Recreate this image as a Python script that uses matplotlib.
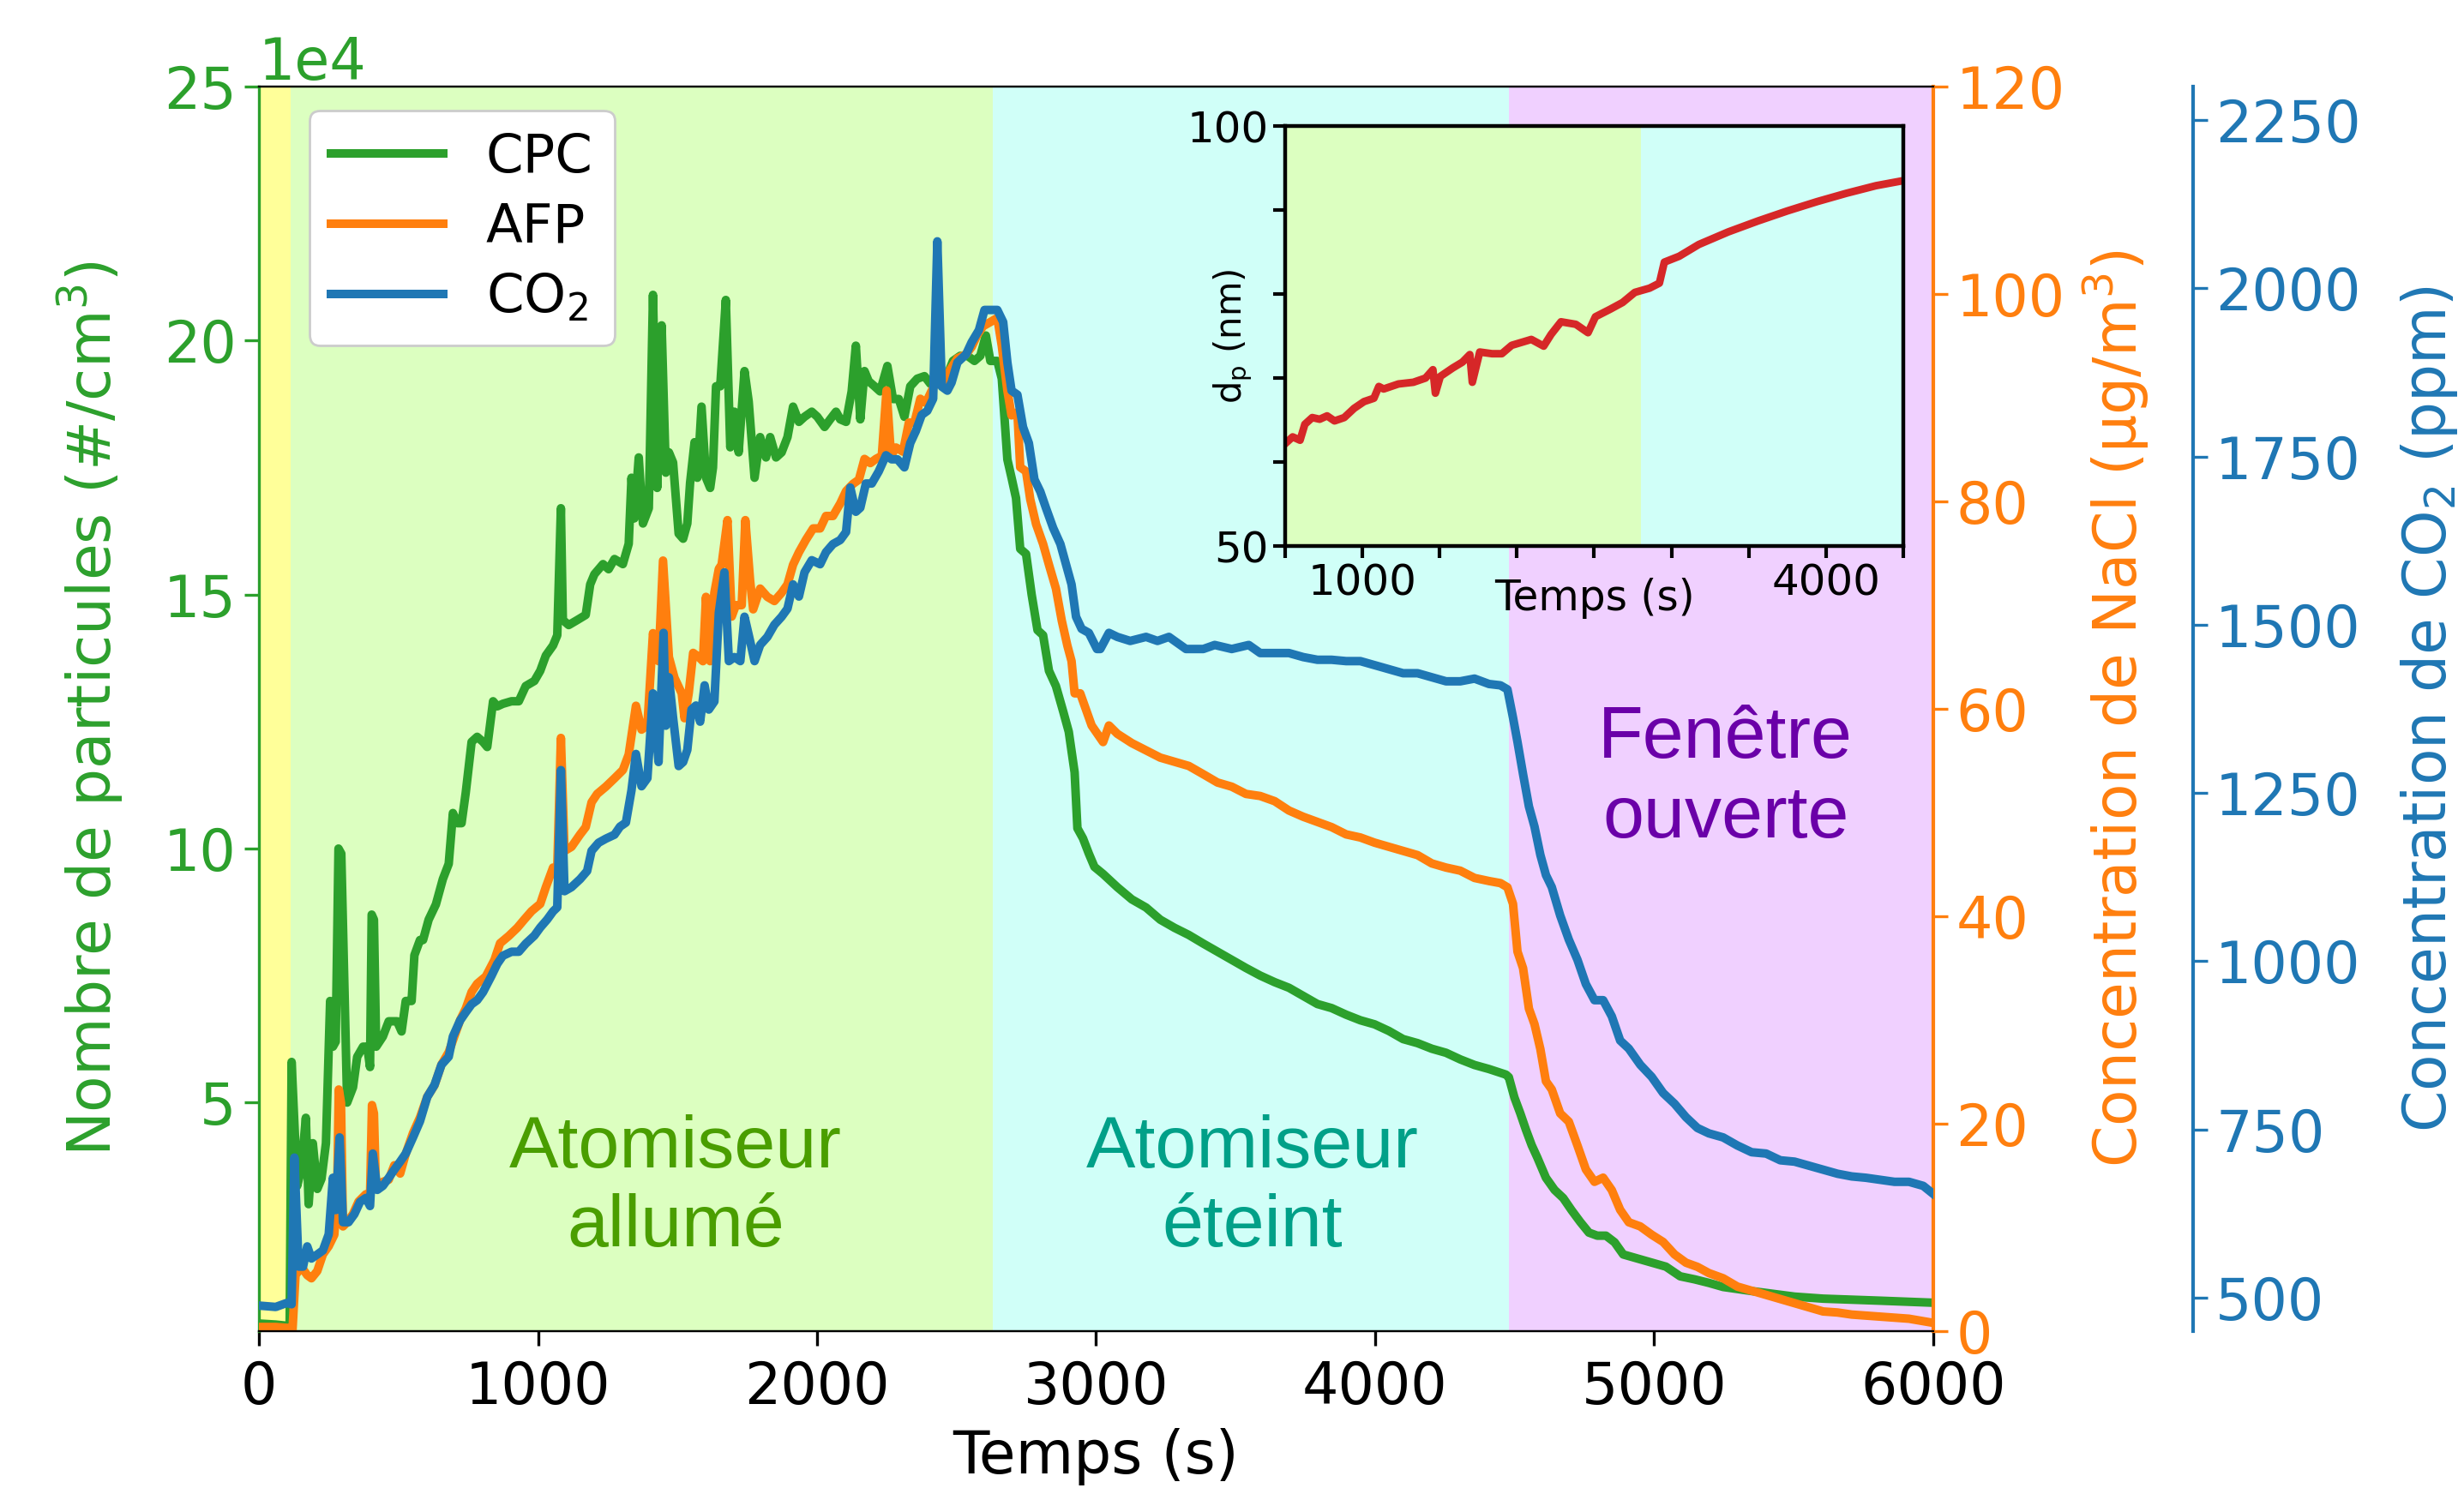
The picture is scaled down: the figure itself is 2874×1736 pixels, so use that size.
import matplotlib.pyplot as plt
import numpy as np
from matplotlib import transforms

# CPC : temps (s), nombre de particules (x1e4 #/cm3)
cpc_data = np.array([
    [0, 0.65], [60, 0.63], [110, 0.6], [117, 5.8], [137, 3.36], [152, 3.7], [168, 4.7], [178, 3.0],
    [193, 4.2], [209, 3.3], [224, 3.5], [240, 4.2], [255, 7.0], [265, 6.1], [275, 6.2], [285, 10.0],
    [295, 9.9], [316, 5.0], [337, 5.3], [352, 5.9], [373, 6.1], [388, 6.1], [398, 5.7], [404, 8.7],
    [412, 8.6], [420, 6.1], [444, 6.3], [465, 6.6], [495, 6.6], [511, 6.4], [526, 7.0], [547, 7.0],
    [557, 7.9], [577, 8.2], [588, 8.2], [608, 8.6], [634, 8.9], [659, 9.4], [680, 9.7], [695, 10.7],
    [711, 10.5], [726, 10.5], [741, 11.1], [762, 12.1], [782, 12.2], [803, 12.1], [818, 12.0], [839, 12.9],
    [854, 12.8], [874, 12.85], [905, 12.9], [931, 12.9], [956, 13.2], [987, 13.3], [1008, 13.5], [1028, 13.8],
    [1054, 14.0], [1069, 14.2], [1082, 16.7], [1089, 14.5], [1110, 14.4], [1141, 14.5], [1171, 14.6], [1187, 15.2],
    [1202, 15.4], [1233, 15.6], [1253, 15.5], [1274, 15.7], [1304, 15.6], [1325, 16.0], [1335, 17.3], [1345, 16.5],
    [1361, 17.7], [1376, 16.4], [1397, 16.7], [1412, 20.9], [1427, 17.1], [1443, 20.3], [1458, 17.4], [1469, 17.8],
    [1484, 17.6], [1504, 16.2], [1520, 16.1], [1535, 16.4], [1545, 17.2], [1561, 18.0], [1571, 17.3], [1586, 18.7],
    [1602, 17.3], [1617, 17.1], [1627, 17.5], [1638, 19.1], [1653, 19.1], [1673, 20.8], [1689, 17.9], [1704, 18.6],
    [1719, 17.8], [1740, 19.4], [1755, 18.8], [1776, 17.3], [1796, 18.1], [1817, 17.7], [1832, 18.1], [1853, 17.7],
    [1873, 17.8], [1894, 18.1], [1914, 18.7], [1935, 18.4], [1955, 18.5], [1981, 18.6], [2001, 18.5], [2027, 18.3],
    [2047, 18.45], [2068, 18.6], [2083, 18.45], [2104, 18.4], [2124, 19.0], [2139, 19.9], [2155, 18.45], [2170, 19.4],
    [2185, 19.2], [2206, 19.1], [2226, 19.0], [2252, 19.5], [2272, 18.85], [2293, 18.85], [2313, 18.5], [2334, 19.1],
    [2359, 19.25], [2385, 19.3], [2406, 19.15], [2436, 19.15], [2462, 19.25], [2487, 19.6], [2513, 19.7], [2539, 19.7],
    [2564, 19.6], [2585, 19.7], [2605, 20.1], [2621, 19.6], [2646, 19.6], [2662, 19.25], [2682, 17.66], [2697, 17.3],
    [2713, 16.9], [2728, 15.9], [2749, 15.8], [2769, 15.0], [2790, 14.3], [2810, 14.2], [2831, 13.5], [2856, 13.2],
    [2882, 12.7], [2902, 12.3], [2923, 11.5], [2933, 10.4], [2953, 10.2], [2974, 9.9], [2994, 9.64], [3025, 9.5],
    [3076, 9.24], [3128, 9.0], [3179, 8.84], [3230, 8.6], [3281, 8.44], [3332, 8.3], [3384, 8.13], [3435, 7.97],
    [3486, 7.81], [3537, 7.65], [3588, 7.5], [3640, 7.37], [3691, 7.26], [3742, 7.1], [3793, 6.94], [3844, 6.86],
    [3896, 6.73], [3947, 6.62], [3998, 6.54], [4049, 6.41], [4100, 6.25], [4152, 6.17], [4203, 6.06], [4254, 5.98],
    [4305, 5.85], [4356, 5.74], [4408, 5.66], [4469, 5.55], [4479, 5.5], [4499, 5.1], [4520, 4.79], [4540, 4.47],
    [4561, 4.16], [4581, 3.92], [4612, 3.52], [4643, 3.28], [4674, 3.12], [4704, 2.88], [4735, 2.65], [4766, 2.44],
    [4796, 2.38], [4827, 2.38], [4858, 2.25], [4889, 2.01], [4940, 1.93], [4991, 1.85], [5042, 1.77], [5093, 1.58],
    [5145, 1.52], [5196, 1.45], [5247, 1.37], [5349, 1.29], [5503, 1.18], [5605, 1.14], [5810, 1.1], [6000, 1.06],
])

# AFP : temps (s), concentration NaCl (ug/m3)
afp_data = np.array([
    [0, 0.4], [60, 0.4], [110, 0.3], [120, 0.0], [131, 5.4], [152, 6.2], [173, 5.4], [188, 5.1],
    [209, 5.8], [229, 7.4], [250, 8.2], [270, 9.3], [280, 13.0], [286, 23.3], [294, 22.0], [301, 10.1],
    [316, 10.5], [337, 11.3], [357, 12.5], [383, 13.2], [398, 13.0], [405, 21.8], [412, 21.0], [419, 14.0],
    [444, 14.4], [465, 14.6], [485, 16.0], [506, 15.2], [526, 17.1], [552, 19.1], [577, 20.6], [603, 22.6],
    [629, 23.7], [654, 25.7], [680, 26.9], [700, 28.4], [721, 30.0], [741, 31.1], [762, 32.7], [782, 33.5],
    [813, 34.2], [844, 35.8], [864, 37.4], [895, 38.1], [926, 38.9], [951, 39.7], [977, 40.5], [1008, 41.2],
    [1028, 42.8], [1054, 44.7], [1069, 44.7], [1082, 57.2], [1095, 46.3], [1120, 46.7], [1151, 47.9], [1171, 48.6],
    [1192, 51.0], [1212, 51.8], [1243, 52.5], [1274, 53.3], [1304, 54.1], [1325, 55.6], [1351, 60.3], [1371, 58.0],
    [1392, 58.4], [1412, 67.3], [1432, 64.6], [1448, 74.3], [1469, 65.0], [1489, 63.0], [1515, 61.5], [1525, 59.1],
    [1540, 61.5], [1556, 65.4], [1576, 65.0], [1591, 64.6], [1602, 70.8], [1617, 64.6], [1632, 71.2], [1648, 73.5],
    [1658, 73.9], [1679, 78.2], [1694, 68.9], [1709, 70.0], [1730, 70.0], [1743, 78.2], [1760, 72.4], [1771, 69.6],
    [1796, 71.6], [1822, 70.8], [1847, 70.4], [1873, 71.2], [1894, 72.0], [1914, 73.9], [1935, 75.1], [1960, 76.3],
    [1986, 77.4], [2011, 77.4], [2032, 78.6], [2057, 78.6], [2083, 79.8], [2104, 81.0], [2129, 81.7], [2150, 82.1],
    [2170, 84.1], [2191, 83.7], [2211, 84.1], [2232, 84.4], [2249, 90.7], [2265, 84.4], [2283, 85.2], [2308, 84.8],
    [2329, 87.6], [2349, 87.6], [2370, 89.9], [2390, 89.5], [2411, 90.7], [2436, 91.9], [2457, 91.5], [2477, 92.7],
    [2503, 93.8], [2534, 94.2], [2554, 94.9], [2575, 96.1], [2595, 96.9], [2621, 97.3], [2646, 97.7], [2662, 95.0],
    [2682, 90.7], [2697, 88.3], [2718, 88.6], [2728, 83.3], [2749, 82.9], [2764, 80.2], [2785, 77.8], [2810, 75.9],
    [2831, 73.9], [2856, 71.6], [2877, 68.5], [2897, 66.1], [2912, 64.6], [2923, 61.5], [2943, 61.5], [2964, 59.9],
    [2984, 58.4], [3025, 56.8], [3046, 58.4], [3076, 57.6], [3128, 56.7], [3179, 56.0], [3230, 55.3], [3281, 54.9],
    [3332, 54.5], [3384, 53.7], [3435, 52.9], [3486, 52.5], [3537, 51.8], [3588, 51.6], [3640, 51.1], [3691, 50.2],
    [3742, 49.6], [3793, 49.1], [3844, 48.6], [3896, 47.9], [3947, 47.6], [3998, 47.1], [4049, 46.7], [4100, 46.3],
    [4152, 45.9], [4203, 45.1], [4254, 44.7], [4305, 44.4], [4356, 43.7], [4408, 43.4], [4449, 43.2], [4474, 42.8],
    [4494, 41.2], [4510, 36.6], [4530, 35.0], [4551, 31.1], [4571, 29.6], [4592, 27.2], [4612, 24.1], [4633, 23.3],
    [4663, 21.0], [4694, 20.2], [4725, 17.9], [4755, 15.6], [4786, 14.4], [4817, 14.8], [4848, 13.6], [4878, 11.7],
    [4909, 10.5], [4950, 10.1], [4991, 9.3], [5032, 8.6], [5073, 7.4], [5114, 6.6], [5155, 6.2], [5196, 5.6],
    [5247, 5.1], [5298, 4.3], [5349, 3.9], [5401, 3.5], [5452, 3.1], [5503, 2.7], [5554, 2.3], [5605, 1.9],
    [5657, 1.8], [5708, 1.6], [5810, 1.4], [5913, 1.2], [6000, 0.8],
])

# CO2 : temps (s), concentration (ppm)
co2_data = np.array([
    [0, 488], [60, 486], [100, 492], [117, 490], [127, 708], [142, 546], [158, 546], [173, 576],
    [188, 558], [209, 564], [229, 570], [250, 594], [265, 678], [275, 630], [289, 738], [301, 612],
    [321, 612], [342, 624], [362, 642], [383, 648], [398, 636], [408, 714], [424, 660], [444, 666],
    [465, 678], [485, 690], [506, 702], [526, 714], [552, 738], [577, 762], [603, 798], [629, 816],
    [654, 846], [680, 858], [695, 888], [721, 912], [741, 924], [762, 936], [782, 942], [803, 954],
    [833, 978], [854, 996], [874, 1008], [905, 1014], [931, 1014], [956, 1026], [987, 1038], [1008, 1050],
    [1033, 1062], [1054, 1074], [1069, 1080], [1082, 1284], [1095, 1104], [1120, 1110], [1151, 1122], [1176, 1134],
    [1192, 1164], [1217, 1176], [1243, 1182], [1274, 1188], [1294, 1200], [1315, 1206], [1335, 1254], [1351, 1308],
    [1371, 1260], [1392, 1272], [1412, 1398], [1432, 1296], [1450, 1488], [1458, 1350], [1469, 1422], [1484, 1362],
    [1504, 1290], [1520, 1296], [1535, 1314], [1550, 1374], [1566, 1380], [1581, 1356], [1597, 1410], [1612, 1374],
    [1632, 1386], [1648, 1518], [1668, 1578], [1684, 1446], [1704, 1452], [1725, 1446], [1740, 1512], [1760, 1476],
    [1776, 1446], [1796, 1470], [1822, 1482], [1847, 1500], [1873, 1512], [1894, 1524], [1914, 1560], [1935, 1542],
    [1955, 1578], [1981, 1596], [2011, 1590], [2032, 1608], [2057, 1620], [2083, 1626], [2104, 1638], [2119, 1704],
    [2139, 1668], [2155, 1674], [2175, 1710], [2196, 1710], [2221, 1728], [2247, 1752], [2267, 1746], [2288, 1746],
    [2313, 1734], [2334, 1770], [2354, 1788], [2375, 1812], [2395, 1818], [2416, 1836], [2431, 2070], [2447, 1854],
    [2467, 1848], [2482, 1860], [2503, 1890], [2534, 1902], [2554, 1920], [2580, 1938], [2600, 1968], [2621, 1968],
    [2646, 1968], [2667, 1950], [2682, 1890], [2697, 1848], [2718, 1842], [2738, 1794], [2759, 1770], [2779, 1716],
    [2800, 1698], [2820, 1674], [2846, 1644], [2872, 1620], [2892, 1590], [2912, 1560], [2928, 1512], [2948, 1494],
    [2974, 1488], [3003, 1464], [3015, 1464], [3046, 1488], [3076, 1482], [3122, 1476], [3179, 1482], [3220, 1476],
    [3261, 1482], [3322, 1464], [3384, 1464], [3425, 1470], [3486, 1464], [3547, 1470], [3588, 1458], [3650, 1458],
    [3691, 1458], [3742, 1452], [3793, 1448], [3844, 1448], [3896, 1446], [3947, 1446], [3998, 1440], [4049, 1434],
    [4100, 1428], [4152, 1428], [4203, 1422], [4254, 1416], [4305, 1416], [4356, 1420], [4408, 1412], [4449, 1410],
    [4474, 1404], [4494, 1362], [4510, 1326], [4530, 1278], [4551, 1230], [4571, 1200], [4592, 1158], [4612, 1128],
    [4633, 1110], [4663, 1068], [4694, 1032], [4725, 1002], [4755, 966], [4786, 942], [4817, 942], [4848, 918],
    [4878, 882], [4909, 870], [4950, 846], [4991, 828], [5032, 804], [5073, 788], [5114, 768], [5155, 752],
    [5196, 744], [5247, 738], [5298, 726], [5349, 716], [5401, 714], [5452, 704], [5503, 702], [5554, 696],
    [5605, 690], [5657, 684], [5708, 680], [5759, 678], [5810, 675], [5861, 672], [5913, 672], [5964, 666],
    [6000, 654],
])

# encart : temps (s), diametre dp (nm)
dp_data = np.array([
    [500, 62.2], [548, 63.0], [596, 62.6], [627, 64.5], [675, 65.3], [723, 65.1], [771, 65.5], [819, 64.9],
    [882, 65.3], [946, 66.4], [1010, 67.2], [1074, 67.6], [1106, 69.0], [1137, 68.7], [1233, 69.3], [1329, 69.5],
    [1408, 70.0], [1456, 71.0], [1472, 68.2], [1504, 70.2], [1584, 71.2], [1647, 71.9], [1695, 72.8], [1711, 69.5],
    [1759, 73.1], [1839, 72.9], [1902, 72.9], [1966, 73.9], [2093, 74.6], [2173, 73.8], [2221, 75.2], [2285, 76.7],
    [2381, 76.4], [2460, 75.4], [2508, 77.3], [2604, 78.2], [2684, 79.0], [2763, 80.2], [2858, 80.7], [2922, 81.3],
    [2954, 83.8], [3050, 84.5], [3177, 85.9], [3368, 87.4], [3560, 88.7], [3751, 89.9], [3942, 91.0], [4133, 92.0],
    [4324, 92.9], [4500, 93.5],
])

# phases (s)
phases = [(0, 112, '#ffff99'), (112, 2630, '#dcffc0'), (2630, 4480, '#d0fff8'), (4480, 6000, '#f0d0ff')]
phases_inset = [(500, 2800, '#dcffc0'), (2800, 4500, '#d0fff8')]

green = '#2ca02c'
orange = '#ff7f0e'
blue = '#1f77b4'

fig = plt.figure(figsize=(14.37, 8.68), dpi=200)
ax = fig.add_axes([0.1051, 0.1054, 0.6795, 0.8364])
for a, b, c in phases:
    ax.axvspan(a, b, color=c, lw=0)

l1, = ax.plot(cpc_data[:, 0], cpc_data[:, 1] * 1e4, color=green, lw=3.6)
ax.set_xlim(0, 6000)
ax.set_ylim(5000, 250000)
ax.set_yticks([5e4, 10e4, 15e4, 20e4, 25e4])
ax.ticklabel_format(axis='y', style='sci', scilimits=(4, 4))
ax.yaxis.get_offset_text().set_fontsize(24)
ax.yaxis.get_offset_text().set_color(green)
ax.tick_params(axis='both', labelsize=24, length=6, width=1.2)
ax.tick_params(axis='x', pad=6)
ax.tick_params(axis='y', colors=green)
ax.spines['left'].set_color(green)
ax.spines['left'].set_linewidth(1.2)
ax.set_xlabel('Temps (s)', fontsize=25, labelpad=5)
ax.set_ylabel('Nombre de particules (#/cm$^3$)', fontsize=25, color=green, labelpad=16)

ax2 = ax.twinx()
l2, = ax2.plot(afp_data[:, 0], afp_data[:, 1], color=orange, lw=3.6)
ax2.set_ylim(0, 120)
ax2.set_yticks([0, 20, 40, 60, 80, 100, 120])
ax2.tick_params(axis='y', colors=orange, labelsize=24, length=6, width=1.2)
ax2.spines['right'].set_color(orange)
ax2.spines['right'].set_linewidth(1.5)
ax2.spines['left'].set_visible(False)
ax2.set_ylabel('Concentration de NaCl (µg/m$^3$)', fontsize=25, color=orange, labelpad=7)

ax3 = ax.twinx()
ax3.spines['right'].set_position(('axes', 1.155))
l3, = ax3.plot(co2_data[:, 0], co2_data[:, 1], color=blue, lw=3.6)
ax3.set_ylim(450, 2300)
ax3.set_yticks([500, 750, 1000, 1250, 1500, 1750, 2000, 2250])
ax3.tick_params(axis='y', colors=blue, labelsize=24, length=6, width=1.2)
ax3.spines['right'].set_color(blue)
ax3.spines['right'].set_linewidth(1.5)
for s in ['left', 'top', 'bottom']:
    ax3.spines[s].set_visible(False)
ax3.set_ylabel('Concentration de CO$_2$ (ppm)', fontsize=25, color=blue, labelpad=16)

leg = ax3.legend([l1, l2, l3], ['CPC', 'AFP', 'CO$_2$'], loc='upper left',
                 bbox_to_anchor=(0.03, 0.981), borderaxespad=0, fontsize=22.5,
                 labelspacing=0.35, handlelength=2.1, framealpha=1)

# textes des phases
trans = transforms.blended_transform_factory(ax.transData, ax.transAxes)
ax3.text(1493, 0.115, 'Atomiseur\nallumé', transform=trans, ha='center', va='center',
         fontsize=31, color='#4a9e00', family='Liberation Sans')
ax3.text(3561, 0.115, 'Atomiseur\néteint', transform=trans, ha='center', va='center',
         fontsize=31, color='#00a088', family='Liberation Sans')
ax3.text(5256, 0.444, 'Fenêtre\nouverte', transform=trans, ha='center', va='center',
         fontsize=31, color='#6a00a8', family='Liberation Sans')

# encart dp
axin = fig.add_axes([0.5216, 0.633, 0.2508, 0.2823])
for a, b, c in phases_inset:
    axin.axvspan(a, b, color=c, lw=0)
axin.plot(dp_data[:, 0], dp_data[:, 1], color='#d62728', lw=3.2)
axin.set_xlim(500, 4500)
axin.set_ylim(50, 100)
xt = np.arange(500, 4501, 500)
axin.set_xticks(xt)
axin.set_xticklabels([str(v) if v in (1000, 4000) else '' for v in xt])
yt = np.arange(50, 101, 10)
axin.set_yticks(yt)
axin.set_yticklabels([str(v) if v in (50, 100) else '' for v in yt])
axin.tick_params(labelsize=18, length=5, width=1.5, pad=2)
for s in axin.spines.values():
    s.set_linewidth(1.6)
axin.set_xlabel('Temps (s)', fontsize=17.5)
axin.xaxis.set_label_coords(0.5, -0.075)
axin.set_ylabel('$\\mathregular{d_p}$ (nm)', fontsize=15)
axin.yaxis.set_label_coords(-0.05, 0.5)

fig.savefig('out.png', dpi=200)
